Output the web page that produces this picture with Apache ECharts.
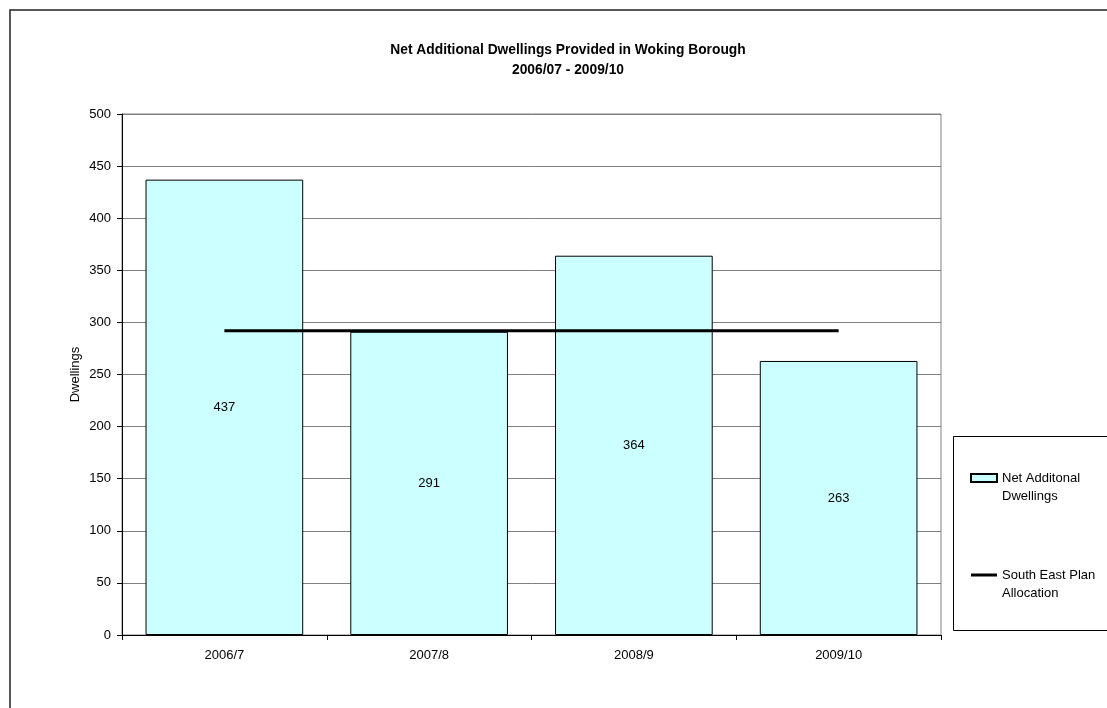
<!DOCTYPE html>
<html><head><meta charset="utf-8">
<script src="https://cdn.jsdelivr.net/npm/echarts@6/dist/echarts.min.js"></script>
<style>html,body{margin:0;padding:0;background:#fff}#c{width:1107px;height:708px}</style>
</head><body><div id="c"></div>
<script>
const titleText = "Net Additional Dwellings Provided in Woking Borough\n2006/07 - 2009/10";
const categories = ["2006/7", "2007/8", "2008/9", "2009/10"];
const dwellings = [437, 291, 364, 263];
const allocation = [292, 292, 292, 292];
const barName = "Net Additonal Dwellings";
const lineName = "South East Plan Allocation";
const legendLabels = {"Net Additonal Dwellings": "\nNet Additonal\nDwellings", "South East Plan Allocation": "\nSouth East Plan\nAllocation"};
const yAxisName = "Dwellings";

const font = "'Liberation Sans', Arial, sans-serif";
const chart = echarts.init(document.getElementById('c'), null, {renderer: 'canvas'});
chart.setOption({
  animation: false,
  backgroundColor: '#fff',
  textStyle: {fontFamily: font},
  graphic: [
    {type: 'rect', shape: {x: 10, y: 10, width: 1200, height: 800}, style: {fill: 'none', stroke: '#222', lineWidth: 1.5}, z: 0},
    {type: 'rect', shape: {x: 953.5, y: 436.5, width: 200, height: 194}, style: {fill: '#fff', stroke: '#000', lineWidth: 1}, z: 1},
    {type: 'text', x: 568, y: 40, z: 5,
     style: {text: titleText, fill: '#000', font: "bold 13.8px 'Liberation Sans', Arial, sans-serif", lineHeight: 20, align: 'center', verticalAlign: 'top'}}
  ],
  legend: {
    orient: 'vertical', left: 970, top: 451, itemGap: 43, itemWidth: 26, itemHeight: 8, padding: 0, z: 10,
    data: [{name: barName, icon: 'rect'}, {name: lineName, icon: 'path://M0,0h0.01v0.01h-0.01z M0,2.6h26v2.8h-26z M0,7.99h0.01v0.01h-0.01z'}],
    formatter: n => legendLabels[n],
    textStyle: {fontSize: 13, color: '#000', fontFamily: font, lineHeight: 18}
  },
  grid: {left: 122, right: 166, top: 114, bottom: 73, show: true, borderColor: '#808080', borderWidth: 1, containLabel: false},
  xAxis: {
    type: 'category', data: categories, boundaryGap: true,
    axisLine: {lineStyle: {color: '#000', width: 1}},
    axisTick: {show: true, length: 5, inside: false, lineStyle: {color: '#000'}},
    axisLabel: {fontSize: 13, color: '#000', margin: 14, fontFamily: font},
    splitLine: {show: false}
  },
  yAxis: {
    type: 'value', min: 0, max: 500, interval: 50,
    name: yAxisName, nameLocation: 'middle', nameRotate: 90, nameGap: 40, nameMoveOverlap: false,
    nameTextStyle: {fontSize: 13, color: '#000', fontFamily: font},
    axisLine: {show: true, lineStyle: {color: '#000', width: 1}},
    axisTick: {show: true, length: 5, inside: false, lineStyle: {color: '#000'}},
    axisLabel: {fontSize: 13, color: '#000', margin: 11, fontFamily: font},
    splitLine: {show: true, lineStyle: {color: '#808080', width: 1}}
  },
  series: [
    {
      name: barName, type: 'bar', data: dwellings, barCategoryGap: '23%',
      itemStyle: {color: '#CCFFFF', borderColor: '#000', borderWidth: 1},
      label: {show: true, position: 'inside', fontSize: 13, color: '#000', fontFamily: font},
      z: 2
    },
    {
      name: lineName, type: 'line', data: allocation, symbol: 'none', showSymbol: false,
      lineStyle: {color: '#000', width: 3}, itemStyle: {color: '#000'}, z: 3
    }
  ]
});
</script></body></html>
